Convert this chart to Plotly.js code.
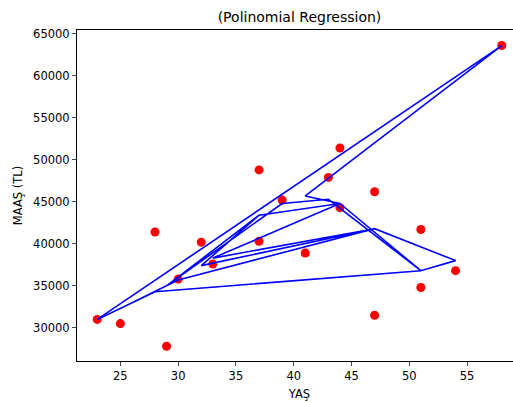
<!DOCTYPE html>
<html><head><meta charset="utf-8">
<script src="https://cdn.plot.ly/plotly-3.0.1.min.js"></script>
<style>html,body{margin:0;padding:0;overflow:hidden;background:#fff}</style>
</head><body><div id="chart"></div>
<script>
// data in original row order
const ages     = [25, 30, 47, 54, 51, 44, 37, 32, 47, 33, 44, 41, 58, 23, 28, 51, 43, 39, 29, 37];
const salaries = [30500, 35800, 46200, 36800, 41700, 51400, 48800, 40200, 31500, 37600, 44300, 38900, 63600, 31000, 41400, 34800, 47900, 45200, 27800, 40300];
// model predictions per age
const predAge  = [23, 25, 28, 29, 30, 32, 33, 37, 39, 41, 43, 44, 47, 51, 54, 58];
const predVal  = [31000, 32300, 34300, 35000, 35700, 37400, 38300, 43400, 44800, 45700, 45300, 44800, 41800, 36800, 38000, 63600];
const preds = ages.map(a => predVal[predAge.indexOf(a)]);

const font = {family: 'DejaVu Sans', color: '#000'};
const data = [
  {x: ages, y: salaries, type: 'scatter', mode: 'markers',
   marker: {color: '#ff0000', size: 9}},
  {x: ages, y: preds, type: 'scatter', mode: 'lines',
   line: {color: '#0000ff', width: 1.6}}
];
const layout = {
  width: 530, height: 403,
  margin: {l: 77, r: 8, t: 30, b: 42},
  paper_bgcolor: '#fff', plot_bgcolor: '#fff',
  showlegend: false,
  font: Object.assign({size: 11.5}, font),
  title: {text: '(Polinomial Regression)', xref: 'paper', x: 0.5, xanchor: 'center',
          yref: 'container', y: 0.97, yanchor: 'top',
          font: Object.assign({size: 14}, font)},
  xaxis: {range: [21.25, 59.75], tickvals: [25,30,35,40,45,50,55], ticks: 'outside', ticklen: 4,
          showgrid: false, zeroline: false, showline: true, linecolor: '#000', linewidth: 1, mirror: true,
          tickfont: Object.assign({size: 11.5}, font),
          title: {text: 'YAŞ', font: Object.assign({size: 11.5}, font), standoff: 8}},
  yaxis: {range: [26050, 65450], tickvals: [30000,35000,40000,45000,50000,55000,60000,65000],
          ticktext: ['30000','35000','40000','45000','50000','55000','60000','65000'],
          ticks: 'outside', ticklen: 4,
          showgrid: false, zeroline: false, showline: true, linecolor: '#000', linewidth: 1, mirror: true,
          tickfont: Object.assign({size: 11.5}, font),
          title: {text: 'MAAŞ (TL)', font: Object.assign({size: 11.5}, font), standoff: 8}}
};
Plotly.newPlot('chart', data, layout, {displayModeBar: false, staticPlot: true});
</script></body></html>
